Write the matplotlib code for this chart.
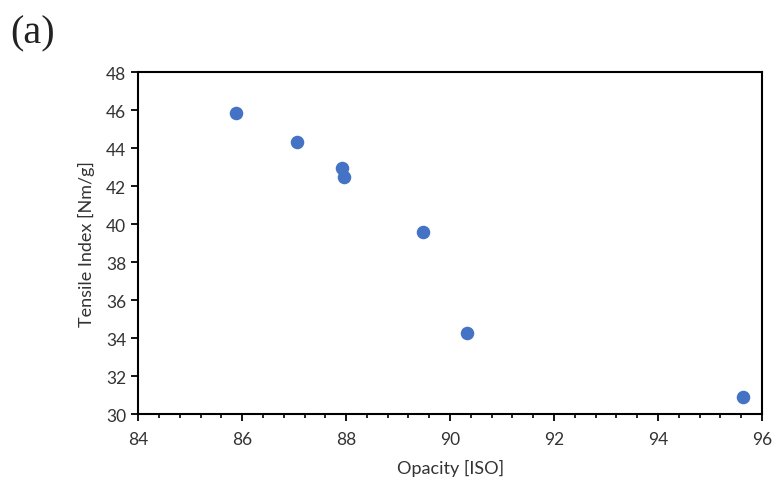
import matplotlib
matplotlib.use("Agg")
import matplotlib.pyplot as plt
from matplotlib.ticker import MultipleLocator

opacity = [85.88, 87.06, 87.92, 87.96, 89.48, 90.32, 95.63]
tensile = [45.84, 44.32, 42.93, 42.49, 39.60, 34.25, 30.88]
xticks = [84, 86, 88, 90, 92, 94, 96]
yticks = [30, 32, 34, 36, 38, 40, 42, 44, 46, 48]

plt.rcParams['font.family'] = ['Lato', 'DejaVu Sans']

fig = plt.figure(figsize=(7.76, 4.81), dpi=100)
ax = fig.add_axes([0.178, 0.137, 0.804, 0.711])
ax.scatter(opacity, tensile, s=95, color='#4472C4', zorder=3, linewidths=0)
ax.set_xlim(84, 96)
ax.set_ylim(30, 48)
ax.set_xticks(xticks)
ax.set_yticks(yticks)
ax.xaxis.set_minor_locator(MultipleLocator(0.4))
ax.tick_params(axis='both', which='major', direction='out', length=5, width=1.3,
               labelsize=12.5, colors='black', labelcolor='#333333')
ax.tick_params(axis='x', which='major', pad=7)
ax.tick_params(axis='x', which='minor', direction='out', length=3, width=1.2)
for sp in ax.spines.values():
    sp.set_linewidth(1.5)
    sp.set_color('black')
ax.set_xlabel('Opacity [ISO]', fontsize=13, labelpad=9, color='#333333')
ax.set_ylabel('Tensile Index [Nm/g]', fontsize=13, labelpad=8, color='#333333')
fig.text(0.013, 0.93, '(a)', family='Liberation Serif', fontsize=29, va='center', ha='left',
         color='#222222')
fig.savefig('out.png', dpi=100)
